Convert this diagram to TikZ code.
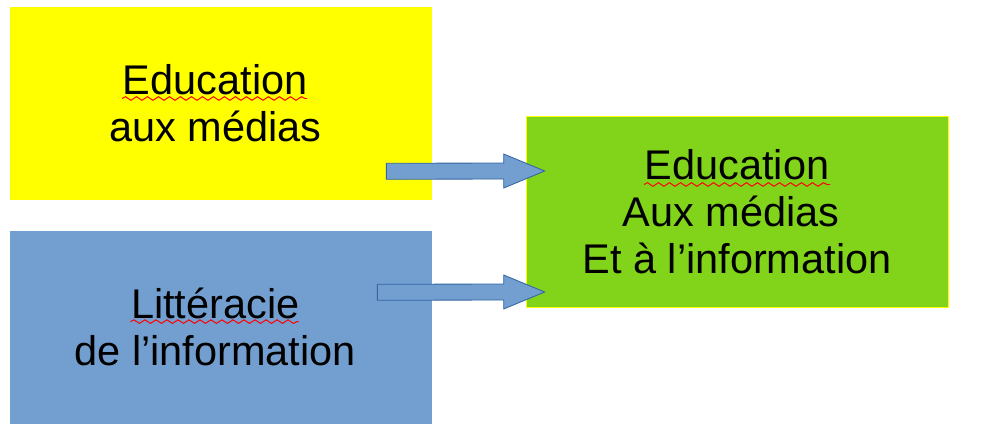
\documentclass[tikz,border=0pt]{standalone}
\usepackage{fontspec}
\setmainfont{Liberation Sans}
\usepackage{tikz}
\usetikzlibrary{positioning, calc, decorations.pathmorphing}
\definecolor{edyellow}{HTML}{FFFF00}
\definecolor{liblue}{HTML}{729FCF}
\definecolor{emigreen}{HTML}{81D41A}
\definecolor{arrowline}{HTML}{3465A4}
\newcommand{\trail}{\kern0.28em\relax}
\tikzset{
  box/.style = {rectangle, inner sep=0pt, minimum width=10.55cm, minimum height=4.825cm,
    align=center, font=\fontsize{29.5}{33.3}\selectfont},
  blockarrow/.style = {fill=liblue, draw=arrowline, line width=0.6pt, line join=miter},
  spellmark/.style = {red, line width=0.7pt, decorate,
    decoration={snake, segment length=0.275cm, amplitude=0.045cm}}
}

\begin{document}
\begin{tikzpicture}[x=0.025cm, y=-0.025cm]
			\useasboundingbox (0,0) rectangle (1004,425);
			\node (edu) [box, fill=edyellow] at (221,103.5) {Education\trail\\aux médias\trail};
			\node (lit) [box, fill=liblue, below = 0.75cm of edu] {Littéracie\trail\\de l’information\trail};
			\node (emi) [box, fill=emigreen, draw=edyellow, minimum height=4.775cm] at (737,211.5)
				{Education\\Aux médias\trail\\Et à l’information};
			% spelling marks
			\draw[spellmark] ($(edu.center)+(-99,-5)$) -- ($(edu.center)+(86,-5)$);
			\draw[spellmark] ($(lit.center)+(-90.5,-5.5)$) -- ($(lit.center)+(77.5,-5.5)$);
			\draw[spellmark] ($(emi.center)+(-93,-27)$) -- ($(emi.center)+(93,-27)$);
			% block arrows
			\coordinate (s1) at ($(edu.south east)+(-46,-29)$);
			\coordinate (t1) at ($(emi.west)+(19,-40.5)$);
			\coordinate (s2) at ($(lit.north east)+(-55,62)$);
			\coordinate (t2) at ($(emi.west)+(19,80.5)$);
			\foreach \s/\t in {s1/t1, s2/t2}
				\draw[blockarrow] ($(\s)+(0,-8)$) -- ($(\t)+(-41,-8)$) -- ($(\t)+(-41,-17)$) -- (\t)
					-- ($(\t)+(-41,17)$) -- ($(\t)+(-41,8)$) -- ($(\s)+(0,8)$) -- cycle;
\end{tikzpicture}
\end{document}
